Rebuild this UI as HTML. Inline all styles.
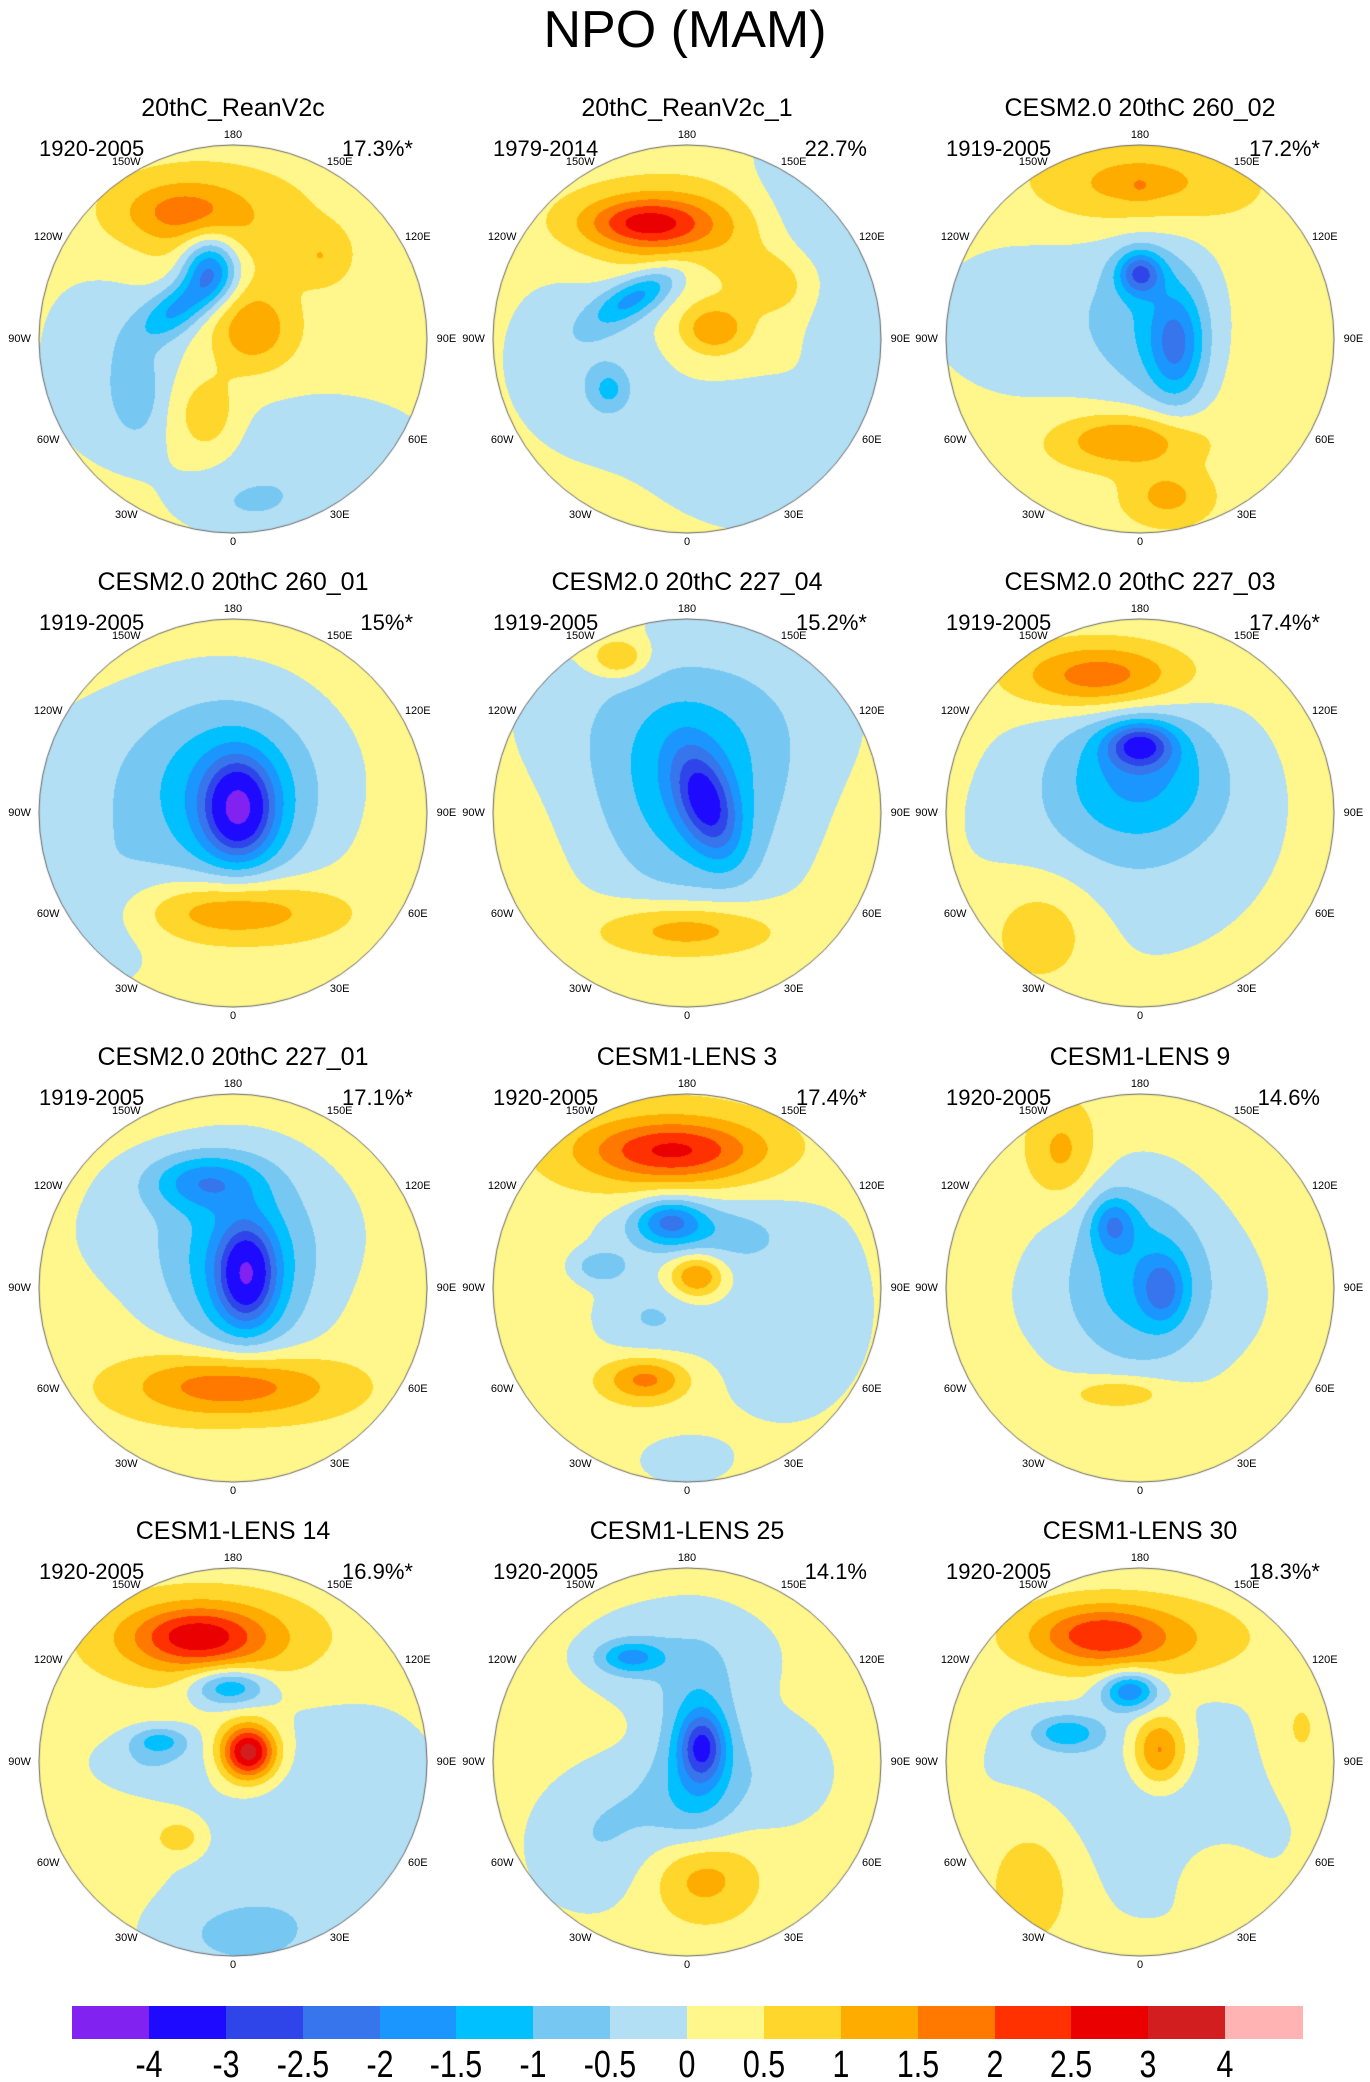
<!DOCTYPE html>
<html><head><meta charset="utf-8"><style>
body{margin:0;background:#fff;}
#page{position:relative;width:1370px;height:2082px;background:#fff;font-family:"Liberation Sans",sans-serif;overflow:hidden;}
.t{position:absolute;white-space:nowrap;color:#000;}
canvas{position:absolute;}
</style></head><body>
<div id="page">
<div class="t" style="left:0;width:1370px;text-align:center;top:0px;font-size:52px;">NPO (MAM)</div>
</div>
<script>
// color levels
const levelBounds = [-4,-3,-2.5,-2,-1.5,-1,-0.5,0,0.5,1,1.5,2,2.5,3,4];
const levelColors = ["#8122F0","#1E0BFF","#2F45EA","#3675EB","#1B96FF","#00C0FF","#76C8F2","#B3DFF4","#FFF68C","#FFD62B","#FFAC00","#FF7800","#FF3100","#EA0000","#D21E1E","#FFB3B3"];
const panelTitles = ["20thC_ReanV2c","20thC_ReanV2c_1","CESM2.0 20thC 260_02","CESM2.0 20thC 260_01","CESM2.0 20thC 227_04","CESM2.0 20thC 227_03","CESM2.0 20thC 227_01","CESM1-LENS 3","CESM1-LENS 9","CESM1-LENS 14","CESM1-LENS 25","CESM1-LENS 30"];
const panelYears = ["1920-2005","1979-2014","1919-2005","1919-2005","1919-2005","1919-2005","1919-2005","1920-2005","1920-2005","1920-2005","1920-2005","1920-2005"];
const panelPct = ["17.3%*","22.7%","17.2%*","15%*","15.2%*","17.4%*","17.1%*","17.4%*","14.6%","16.9%*","14.1%","18.3%*"];
const panelBase = [0.25,0.25,0.3,0.25,0.22,0.25,0.3,0.25,0.3,0.25,0.25,0.25];
// anomaly centers: [u, v, amplitude, sigmaU, sigmaV, rotationDeg]
const p1 = [[-0.27,-0.66,0.9,0.2,0.1,0],[-0.15,-0.6,0.8,0.38,0.2,0],[0.46,-0.42,0.6,0.1,0.1,0],[-0.12,-0.37,-2.3,0.1,0.12,0],[-0.28,-0.16,-1.6,0.16,0.08,-35],[0.1,-0.05,1.2,0.15,0.15,0],[-0.14,0.4,0.9,0.12,0.15,0],[-0.6,0.1,-0.6,0.3,0.4,0],[-0.5,0.28,-0.7,0.08,0.15,0],[0.43,0.57,-0.6,0.45,0.22,0],[0.09,0.86,-0.6,0.25,0.12,0]];
const p2 = [[-0.22,-0.6,1.4,0.2,0.08,0],[-0.1,-0.58,1.3,0.35,0.15,0],[0.67,-0.73,-0.8,0.25,0.35,0],[0.87,-0.05,-0.6,0.15,0.2,0],[0.45,-0.29,0.8,0.15,0.12,0],[-0.26,-0.22,-1.7,0.18,0.07,-30],[0.14,-0.05,1.3,0.12,0.09,0],[-0.55,0.1,-0.6,0.3,0.35,0],[-0.4,0.26,-0.9,0.07,0.08,0],[0.4,0.6,-0.6,0.45,0.3,0]];
const p3 = [[0,-0.79,1.05,0.35,0.15,0],[0,-0.79,0.4,0.05,0.04,0],[0,-0.34,-2.1,0.08,0.08,0],[0.19,0.04,-1.6,0.1,0.2,0],[0.08,-0.1,-0.9,0.22,0.35,0],[-0.5,-0.1,-0.6,0.5,0.35,0],[-0.07,0.52,1.4,0.25,0.1,0],[0.14,0.81,0.9,0.15,0.1,0]];
const p4 = [[0.03,-0.02,-2.8,0.12,0.17,0],[0,-0.05,-1.4,0.3,0.35,0],[-0.3,-0.2,-0.6,0.6,0.35,0],[0,0.5,1.5,0.35,0.12,0],[-0.7,0.5,-0.6,0.25,0.3,0]];
const p5 = [[0.1,-0.05,-2.2,0.1,0.2,-20],[0.02,-0.05,-1.4,0.35,0.4,0],[0,-0.5,-0.6,0.6,0.3,0],[-0.35,-0.8,1.2,0.1,0.07,0],[0,0.6,1.3,0.3,0.1,0]];
const p6 = [[-0.2,-0.7,1.8,0.3,0.12,0],[0,-0.35,-2.2,0.12,0.08,0],[0,-0.2,-1.4,0.3,0.25,0],[-0.1,0.1,-0.6,0.6,0.5,0],[-0.5,0.6,0.8,0.2,0.2,0]];
const p7 = [[-0.1,-0.3,-0.6,0.6,0.35,0],[-0.15,-0.55,-1.5,0.2,0.1,0],[0.07,-0.07,-2.6,0.1,0.17,0],[0.05,-0.05,-1.4,0.25,0.35,0],[0,0.5,1.9,0.35,0.12,0]];
const p8 = [[-0.07,-0.71,1.5,0.3,0.1,0],[-0.07,-0.7,0.9,0.42,0.18,0],[-0.09,-0.35,-1.6,0.12,0.08,0],[0,-0.3,-1.0,0.3,0.12,0],[-0.45,-0.11,-1.0,0.1,0.06,0],[0.5,0.1,-0.6,0.35,0.45,0],[-0.2,0.15,-0.7,0.2,0.15,0],[0.05,-0.06,1.7,0.1,0.08,0],[-0.21,0.47,1.5,0.15,0.08,0],[-0.02,0.89,-0.7,0.15,0.08,0]];
const p9 = [[-0.4,-0.7,0.9,0.12,0.17,0],[-0.14,-0.33,-1.4,0.08,0.1,0],[0.12,0.01,-1.3,0.08,0.12,0],[0,-0.1,-1.1,0.25,0.35,0],[0,0.05,-0.55,0.55,0.35,0],[-0.1,0.54,0.9,0.18,0.06,0]];
const p10 = [[-0.19,-0.65,1.6,0.22,0.1,0],[-0.1,-0.62,1.2,0.4,0.17,0],[-0.02,-0.39,-1.8,0.14,0.07,0],[-0.38,-0.11,-1.1,0.1,0.05,0],[0.08,-0.05,3.4,0.1,0.1,0],[0.45,0.4,-0.6,0.55,0.6,0],[0,0.9,-0.6,0.3,0.15,0],[-0.28,0.39,0.9,0.08,0.06,0],[-0.45,0,-0.6,0.2,0.1,0]];
const p11 = [[-0.05,-0.55,-0.6,0.4,0.22,0],[-0.29,-0.54,-1.5,0.12,0.06,0],[0.08,-0.08,-2.0,0.08,0.12,0],[0.06,-0.05,-1.3,0.14,0.3,0],[-0.5,0.45,-0.6,0.25,0.25,0],[-0.1,0.2,-0.6,0.3,0.2,0],[0.5,0.05,-0.55,0.2,0.2,0],[0.08,0.59,1.1,0.18,0.15,0]];
const p12 = [[-0.22,-0.66,1.3,0.22,0.1,0],[-0.05,-0.62,1.2,0.4,0.15,0],[-0.05,-0.37,-2.1,0.1,0.07,0],[-0.38,-0.15,-1.3,0.12,0.06,0],[0.1,-0.06,1.8,0.1,0.13,0],[0,0.15,-0.6,0.65,0.5,0],[0.82,-0.15,0.5,0.12,0.2,0],[-0.55,0.6,0.8,0.18,0.25,0],[0.4,0.6,0.5,0.12,0.12,0]];
const panelFields = [p1,p2,p3,p4,p5,p6,p7,p8,p9,p10,p11,p12];
const lonLabels = ["180","150E","120E","90E","60E","30E","0","30W","60W","90W","120W","150W"];
const cbLabels = ["-4","-3","-2.5","-2","-1.5","-1","-0.5","0","0.5","1","1.5","2","2.5","3","4"];

const colX = [233,687,1140], rowY = [339,813,1288,1762], R = 194;
const page = document.getElementById('page');
function hex(c){return [parseInt(c.slice(1,3),16),parseInt(c.slice(3,5),16),parseInt(c.slice(5,7),16)];}
const rgb = levelColors.map(hex);
function levelIndex(v){let i=0;while(i<levelBounds.length&&v>=levelBounds[i])i++;return i;}
function fieldAt(blobs,base,u,v){
  let f=base;
  for(const b of blobs){
    const a=(b[5]||0)*Math.PI/180, du=u-b[0], dv=v-b[1];
    const x=du*Math.cos(a)+dv*Math.sin(a), y=-du*Math.sin(a)+dv*Math.cos(a);
    f+=b[2]*Math.exp(-0.5*(x*x/(b[3]*b[3])+y*y/(b[4]*b[4])));
  }
  return f;
}
function addText(txt,name,x,y,size,align){
  const d=document.createElement('div');
  d.className='t';
  
  
  d.textContent=txt;d.style.fontSize=size+'px';d.style.top=(y-size*0.58)+'px';
  if(align==='c'){d.style.left=(x-200)+'px';d.style.width='400px';d.style.textAlign='center';}
  else if(align==='r'){d.style.left=(x-300)+'px';d.style.width='300px';d.style.textAlign='right';}
  else d.style.left=x+'px';
  page.appendChild(d);
}
for(let p=0;p<12;p++){
  const cx=colX[p%3], cy=rowY[Math.floor(p/3)];
  const S=2*R+2;
  const cv=document.createElement('canvas');
  
  
  cv.width=S;cv.height=S;cv.style.left=(cx-R-1)+'px';cv.style.top=(cy-R-1)+'px';
  const ctx=cv.getContext('2d');
  const img=ctx.createImageData(S,S);
  for(let j=0;j<S;j++)for(let i=0;i<S;i++){
    const u=(i-R-1+0.5)/R, v=(j-R-1+0.5)/R;
    if(u*u+v*v>1)continue;
    const c=rgb[levelIndex(fieldAt(panelFields[p],panelBase[p],u,v))];
    const k=(j*S+i)*4;img.data[k]=c[0];img.data[k+1]=c[1];img.data[k+2]=c[2];img.data[k+3]=255;
  }
  ctx.putImageData(img,0,0);
  ctx.strokeStyle='#666';ctx.lineWidth=1;ctx.beginPath();ctx.arc(R+1,R+1,R,0,2*Math.PI);ctx.stroke();
  page.appendChild(cv);
  addText(panelTitles[p],'panel-title',cx,cy-231,25,'c');
  addText(panelYears[p],'period-label',cx-194,cy-190,22,'l');
  addText(panelPct[p],'variance-label',cx+180,cy-190,22,'r');
  for(let k=0;k<12;k++){
    const th=k*30*Math.PI/180;
    addText(lonLabels[k],'longitude-label',cx+Math.sin(th)*R*1.1,cy-Math.cos(th)*R*1.05,11,'c');
  }
}
// colorbar
const cbX0=72, cbX1=1302, cbY=2006, cbH=33;
const cw=(cbX1-cbX0)/levelColors.length;
for(let i=0;i<levelColors.length;i++){
  const d=document.createElement('div');
  
  
  d.style.cssText='position:absolute;left:'+(cbX0+i*cw)+'px;top:'+cbY+'px;width:'+(cw+0.5)+'px;height:'+cbH+'px;background:'+levelColors[i]+';';
  page.appendChild(d);
}
for(let i=0;i<cbLabels.length;i++){
  const d=document.createElement('div');
  d.className='t';
  
  
  d.textContent=cbLabels[i];
  d.style.cssText+='left:'+(cbX0+(i+1)*cw-50)+'px;width:100px;text-align:center;top:2044px;font-size:38px;transform:scaleX(0.8);';
  page.appendChild(d);
}
</script>
</body></html>
